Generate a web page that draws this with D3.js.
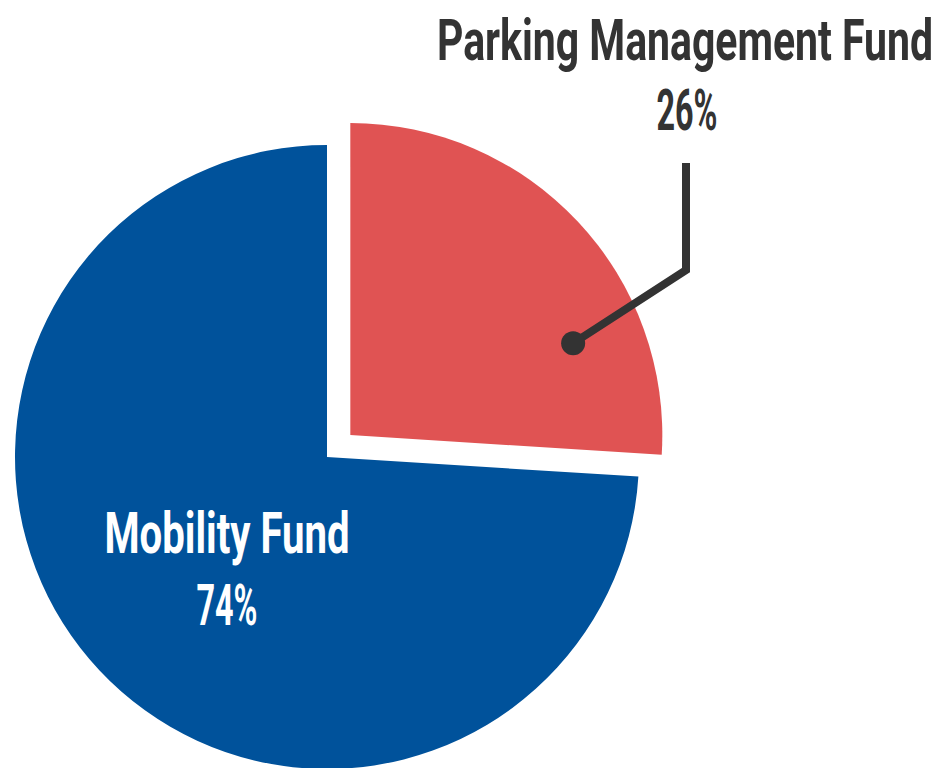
<!DOCTYPE html>
<html>
<head>
<meta charset="utf-8">
<script src="https://cdn.jsdelivr.net/npm/d3@7"></script>
<style>
  html, body { margin: 0; padding: 0; background: #ffffff; }
  svg { display: block; }
</style>
</head>
<body>
<svg id="chart" width="944" height="768"></svg>
<script>
// ---- data ----
const categories = ["Parking Management Fund", "Mobility Fund"];
const values = [26, 74];
const percentLabels = ["26%", "74%"];
const colors = ["#E05353", "#00529B"];

(function () {
// ---- layout ----
const cx = 327, cy = 457, R = 312;
const explode = 32;

const svg = d3.select("#chart");
const pie = d3.pie().sort(null).value(d => d.value).startAngle(0).endAngle(2 * Math.PI);
const data = categories.map((c, i) => ({ name: c, value: values[i], pct: percentLabels[i], color: colors[i], explode: i === 0 }));
const arcs = pie(data);
const arc = d3.arc().innerRadius(0).outerRadius(R);

const g = svg.append("g").attr("transform", `translate(${cx},${cy})`);

g.selectAll("path.slice")
  .data(arcs)
  .join("path")
  .attr("class", "slice")
  .attr("d", arc)
  .attr("fill", d => d.data.color)
  .attr("transform", d => {
    if (!d.data.explode) return null;
    const mid = (d.startAngle + d.endAngle) / 2;
    const [ox, oy] = d3.pointRadial(mid, explode);
    return `translate(${ox},${oy})`;
  });

const textColor = "#333333";
const fontFamily = "Roboto, 'DejaVu Sans Condensed', sans-serif";

// Parking Management label with leader
const red = arcs[0];
const redMid = (red.startAngle + red.endAngle) / 2;
const [rox, roy] = d3.pointRadial(redMid, explode);
const [ddx, ddy] = d3.pointRadial(67.6 * Math.PI / 180, 241);
const dot = [rox + ddx, roy + ddy];
const elbow = [686 - cx, 270 - cy];
const lineTop = [686 - cx, 163 - cy];

g.append("path")
  .attr("d", d3.line()([dot, elbow, lineTop]))
  .attr("fill", "none")
  .attr("stroke", textColor)
  .attr("stroke-width", 8)
  .attr("stroke-linejoin", "miter");
g.append("circle")
  .attr("cx", dot[0]).attr("cy", dot[1]).attr("r", 12)
  .attr("fill", textColor);

function label(x, y, text, width, fill) {
  svg.append("text")
    .attr("x", x).attr("y", y)
    .attr("text-anchor", "middle")
    .attr("font-family", fontFamily)
    .attr("font-weight", 700)
    .attr("font-size", 57)
    .attr("fill", fill)
    .attr("textLength", width)
    .attr("lengthAdjust", "spacingAndGlyphs")
    .text(text);
}

label(685, 60, categories[0], 496, textColor);
label(687, 130, percentLabels[0], 61, textColor);
label(227, 553, categories[1], 245, "#ffffff");
label(227, 625, percentLabels[1], 61, "#ffffff");
})();
</script>
</body>
</html>
